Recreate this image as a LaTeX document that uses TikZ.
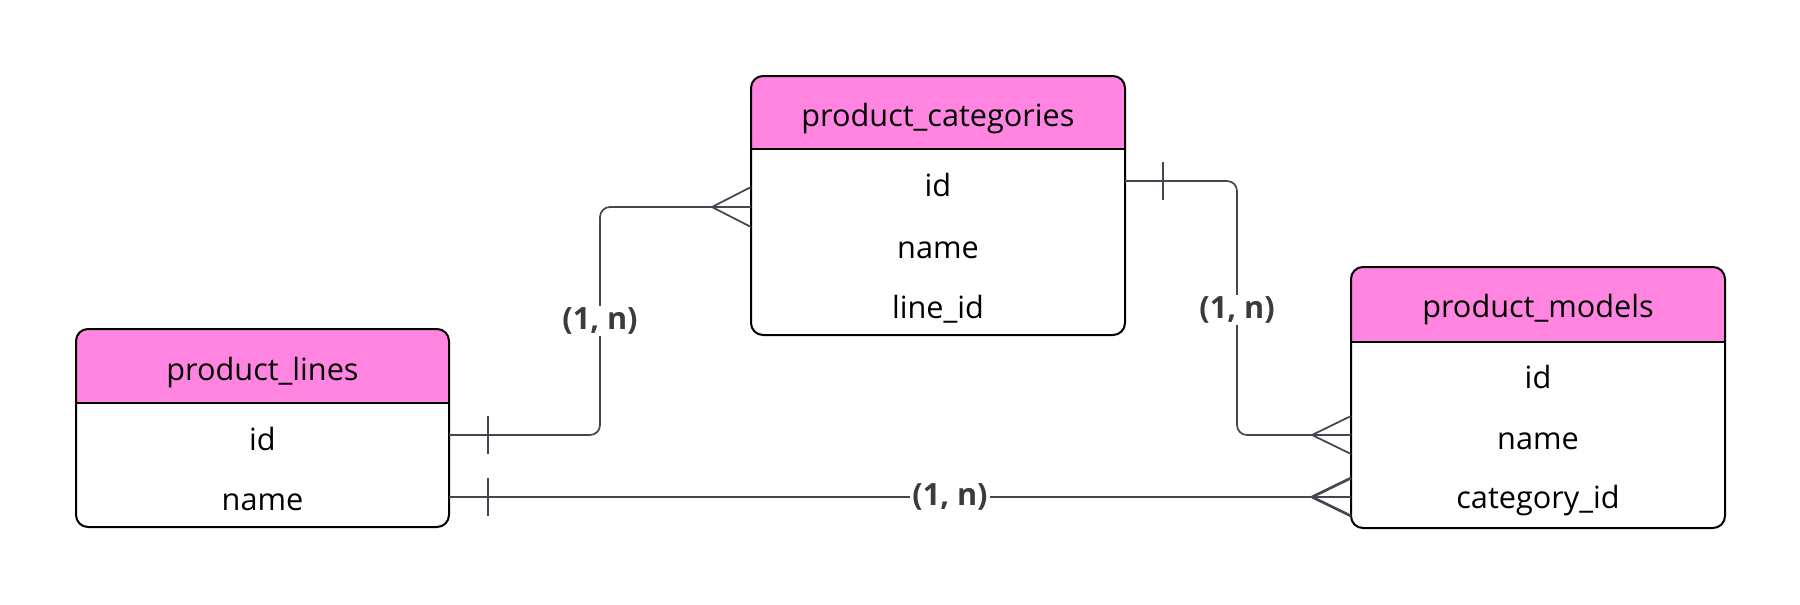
\documentclass[tikz,border=0pt]{standalone}
\usepackage{fontspec}
\setmainfont{Open Sans}
\definecolor{hdr}{HTML}{FF85E1}
\definecolor{conn}{HTML}{414650}
\definecolor{lbl}{HTML}{3B3B3B}
\newcommand\erTable[6]{%
  % #1 name, #2 left, #3 top, #4 right, #5 bottom, #6 divider
  \begin{scope}
    \clip[rounded corners=9pt] (#2,#3) rectangle (#4,#5);
    \fill[hdr] (#2,#3) rectangle (#4,#6);
  \end{scope}
  \draw[line width=1.5pt, rounded corners=9pt] (#2,#3) rectangle (#4,#5);
  \draw[line width=1.5pt] (#2,#6) -- (#4,#6);
}
\begin{document}
\begin{tikzpicture}[x=0.75pt,y=-0.75pt,
  txt/.style={font=\fontsize{23}{27}\selectfont, inner sep=0pt, text=black},
  conn/.style={draw=conn, line width=1.3pt},
  connthick/.style={draw=conn, line width=2pt},
  lab/.style={font=\fontsize{23}{27}\selectfont\bfseries, text=lbl, fill=white, inner sep=1.5pt}]
\useasboundingbox[fill=white] (0,0) rectangle (1800,604);

% product_categories
\erTable{pc}{751}{76}{1125}{335}{149}
\node[txt] (pc-title) at (938,119) {product\_categories};
\node[txt] (pc-id) at (938,185) {id};
\node[txt] (pc-name) at (938,250) {name};
\node[txt] (pc-line) at (938,309) {line\_id};

% product_lines
\erTable{pl}{76}{329}{449}{527}{403}
\node[txt] (pl-title) at (262.5,373) {product\_lines};
\node[txt] (pl-id) at (262.5,439) {id};
\node[txt] (pl-name) at (262.5,502) {name};

% product_models
\erTable{pm}{1351}{267}{1725}{528}{342}
\node[txt] (pm-title) at (1538,310) {product\_models};
\node[txt] (pm-id) at (1538,377) {id};
\node[txt] (pm-name) at (1538,441) {name};
\node[txt] (pm-cat) at (1538,501) {category\_id};

% connector end points
\coordinate (plR1) at (449,435);
\coordinate (plR2) at (449,497);
\coordinate (pcL) at (751,207);
\coordinate (pcR) at (1125,181);
\coordinate (pmL1) at (1351,435);
\coordinate (pmL2) at (1351,497);

% product_lines.id -> product_categories
\draw[conn, rounded corners=7.5pt] (plR1) -| (600,207) -- (pcL);
\draw[conn] (488,416) -- (488,454);
\draw[conn] (712,207) -- (751,187);
\draw[conn] (712,207) -- (751,227);

% product_categories.id -> product_models
\draw[conn, rounded corners=7.5pt] (pcR) -| (1237,435) -- (pmL1);
\draw[conn] (1163,162) -- (1163,200);
\draw[conn] (1312,435) -- (1351,416);
\draw[conn] (1312,435) -- (1351,454);

% product_lines.name -> product_models
\draw[connthick] (plR2) -- (pmL2);
\draw[connthick] (488,478) -- (488,516);
\draw[connthick] (1312,497) -- (1351,478);
\draw[connthick] (1312,497) -- (1351,516);

% labels
\node[lab] (lab1) at (600,321) {(1, n)};
\node[lab] (lab2) at (1237,310) {(1, n)};
\node[lab] (lab3) at (950,497) {(1, n)};
\end{tikzpicture}
\end{document}
